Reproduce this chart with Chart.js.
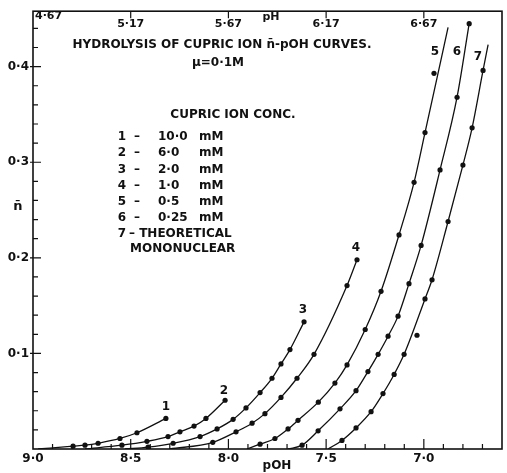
<!DOCTYPE html>
<html>
<head>
<meta charset="utf-8">
<script src="https://cdn.jsdelivr.net/npm/chart.js@4/dist/chart.umd.min.js"></script>
<style>
  body { margin: 0; background: #fff; }
  canvas { display: block; }
</style>
</head>
<body>
<canvas id="grafico" width="507" height="473"></canvas>
<script>
// pOH (x, eixo invertido) e n-barra (y)
const poh1 = [8.974, 8.795, 8.734, 8.667, 8.555, 8.468, 8.32];
const n1   = [0, 0.003, 0.004, 0.006, 0.011, 0.017, 0.032];

const poh2 = [8.734, 8.545, 8.417, 8.309, 8.248, 8.176, 8.115, 8.017];
const n2   = [0, 0.004, 0.008, 0.013, 0.018, 0.024, 0.032, 0.051];

const poh3 = [8.529, 8.411, 8.283, 8.145, 8.058, 7.976, 7.91, 7.838, 7.777, 7.731, 7.685, 7.613];
const n3   = [0, 0.002, 0.006, 0.013, 0.021, 0.031, 0.043, 0.059, 0.074, 0.089, 0.104, 0.133];

const poh4 = [8.30, 8.08, 7.961, 7.879, 7.813, 7.731, 7.649, 7.562, 7.393, 7.342];
const n4   = [0, 0.007, 0.018, 0.027, 0.037, 0.054, 0.074, 0.099, 0.171, 0.198];

const poh5 = [7.905, 7.838, 7.762, 7.695, 7.644, 7.54, 7.455, 7.393, 7.30, 7.219, 7.127, 7.05, 6.994];
const n5   = [0, 0.005, 0.011, 0.021, 0.030, 0.049, 0.069, 0.088, 0.125, 0.165, 0.224, 0.279, 0.331];
const end5 = [6.876, 0.441];

const poh6 = [7.695, 7.623, 7.541, 7.429, 7.347, 7.286, 7.234, 7.183, 7.132, 7.076, 7.014, 6.917, 6.83, 6.768];
const n6   = [0, 0.004, 0.019, 0.042, 0.061, 0.081, 0.099, 0.118, 0.139, 0.173, 0.213, 0.292, 0.368, 0.445];

const poh7 = [7.49, 7.419, 7.347, 7.27, 7.209, 7.152, 7.101, 6.994, 6.958, 6.876, 6.80, 6.753, 6.697];
const n7   = [0, 0.009, 0.022, 0.039, 0.058, 0.078, 0.099, 0.157, 0.177, 0.238, 0.297, 0.336, 0.396];
const end7 = [6.671, 0.423];

// pontos fora da curva
const strayPoh = [6.948, 7.035];
const strayN   = [0.393, 0.119];

const xTicks = [9.0, 8.5, 8.0, 7.5, 7.0];
const xTickLabels = ['9·0', '8·5', '8·0', '7·5', '7·0'];
const yTicks = [0.1, 0.2, 0.3, 0.4];
const yTickLabels = ['0·1', '0·2', '0·3', '0·4'];
const phTicks = [4.67, 5.17, 5.67, 6.17, 6.67];
const phTickLabels = ['4·67', '5·17', '5·67', '6·17', '6·67'];
const pKw = 13.67;

const concRows = [['1', '10·0'], ['2', '6·0'], ['3', '2·0'], ['4', '1·0'], ['5', '0·5'], ['6', '0·25']];

const FONTE = '"DejaVu Sans", sans-serif';
const TINTA = '#111';

function curva(poh, n, fim) {
    const pts = poh.map((x, i) => ({ x: x, y: n[i], dot: n[i] > 0 }));
    if (fim) pts.push({ x: fim[0], y: fim[1], dot: false });
    return {
        data: pts,
        showLine: true,
        borderColor: TINTA,
        borderWidth: 1.3,
        backgroundColor: TINTA,
        cubicInterpolationMode: 'monotone',
        pointRadius: ctx => (ctx.raw && ctx.raw.dot ? 2.6 : 0),
        pointBorderWidth: 0
    };
}

const moldura = {
    id: 'moldura',
    afterDraw(chart) {
        const { ctx, chartArea: a, scales: { x, y } } = chart;
        ctx.save();
        ctx.strokeStyle = TINTA;
        ctx.lineWidth = 1.6;
        ctx.strokeRect(a.left, a.top, a.right - a.left, a.bottom - a.top);

        ctx.lineWidth = 1.2;
        ctx.beginPath();
        // marcas do eixo n (a cada 0.02)
        for (let k = 1; k * 0.02 < y.max; k++) {
            const py = y.getPixelForValue(k * 0.02);
            const maior = k % 5 === 0;
            ctx.moveTo(a.left - (maior ? 3 : 0), py);
            ctx.lineTo(a.left + (maior ? 8 : 5), py);
        }
        // marcas do eixo pOH (a cada 0.1)
        for (let k = 67; k < 90; k++) {
            const px = x.getPixelForValue(k / 10);
            const len = k % 5 === 0 ? 10 : 5;
            ctx.moveTo(px, a.bottom);
            ctx.lineTo(px, a.bottom - len);
        }
        // marcas do pH no topo
        phTicks.slice(1).forEach(ph => {
            const px = x.getPixelForValue(pKw - ph);
            ctx.moveTo(px, a.top);
            ctx.lineTo(px, a.top + 7);
        });
        ctx.stroke();

        ctx.fillStyle = TINTA;
        ctx.textBaseline = 'middle';
        ctx.font = 'bold 11px ' + FONTE;

        // rótulos do pH
        phTicks.forEach((ph, i) => {
            const px = x.getPixelForValue(pKw - ph);
            if (i === 0) {
                ctx.textAlign = 'left';
                ctx.fillText(phTickLabels[i], px + 2, a.top + 5);
            } else {
                ctx.textAlign = 'center';
                ctx.fillText(phTickLabels[i], px, a.top + 13);
            }
        });
        ctx.textAlign = 'center';
        ctx.fillText('pH', 271, 17);

        ctx.font = 'bold 12px ' + FONTE;
        ctx.fillText('HYDROLYSIS OF CUPRIC ION n\u0304-pOH CURVES.', 222, 45);
        ctx.fillText('\u03bc=0·1M', 218, 63);
        ctx.fillText('CUPRIC ION CONC.', 233, 115);

        // tabela de concentrações
        concRows.forEach((r, i) => {
            const py = 137 + i * 16.2;
            ctx.textAlign = 'center';
            ctx.fillText(r[0], 122, py);
            ctx.fillText('–', 137, py);
            ctx.textAlign = 'left';
            ctx.fillText(r[1], 158, py);
            ctx.fillText('mM', 199, py);
        });
        ctx.textAlign = 'center';
        ctx.fillText('7', 122, 234);
        ctx.textAlign = 'left';
        ctx.fillText('– THEORETICAL', 129, 234);
        ctx.fillText('MONONUCLEAR', 130, 249);

        // números das curvas
        ctx.textAlign = 'center';
        [['1', 166, 407], ['2', 224, 391], ['3', 303, 310], ['4', 356, 248],
         ['5', 435, 52], ['6', 457, 52], ['7', 478, 57]].forEach(t => ctx.fillText(t[0], t[1], t[2]));

        ctx.font = 'bold 13px ' + FONTE;
        ctx.fillText('n\u0304', 18, 207);
        ctx.font = 'bold 12px ' + FONTE;
        ctx.fillText('pOH', 277, 466);
        ctx.restore();
    }
};

const ctx = document.getElementById('grafico').getContext('2d');
new Chart(ctx, {
    type: 'scatter',
    data: {
        datasets: [
            curva(poh1, n1),
            curva(poh2, n2),
            curva(poh3, n3),
            curva(poh4, n4),
            curva(poh5, n5, end5),
            curva(poh6, n6),
            curva(poh7, n7, end7),
            {
                data: strayPoh.map((x, i) => ({ x: x, y: strayN[i] })),
                backgroundColor: TINTA,
                pointRadius: 2.6,
                pointBorderWidth: 0
            }
        ]
    },
    options: {
        responsive: false,
        animation: false,
        devicePixelRatio: 1,
        layout: { padding: { left: 0, top: 6, right: 5, bottom: 0 } },
        plugins: {
            legend: { display: false },
            tooltip: { enabled: false }
        },
        scales: {
            x: {
                type: 'linear',
                reverse: true,
                min: 6.6,
                max: 9.0,
                grid: { display: false, drawTicks: false },
                border: { display: false },
                afterBuildTicks: s => { s.ticks = xTicks.map(v => ({ value: v })); },
                afterFit: s => { s.height = 24; },
                ticks: {
                    padding: 3,
                    color: TINTA,
                    maxRotation: 0,
                    autoSkip: false,
                    font: { family: FONTE, size: 12, weight: 'bold' },
                    callback: (v, i) => xTickLabels[i]
                }
            },
            y: {
                type: 'linear',
                min: 0,
                max: 0.458,
                grid: { display: false, drawTicks: false },
                border: { display: false },
                afterBuildTicks: s => { s.ticks = yTicks.map(v => ({ value: v })); },
                afterFit: s => { s.width = 33; },
                ticks: {
                    padding: 4,
                    color: TINTA,
                    autoSkip: false,
                    font: { family: FONTE, size: 12, weight: 'bold' },
                    callback: (v, i) => yTickLabels[i]
                }
            }
        }
    },
    plugins: [moldura]
});
</script>
</body>
</html>
